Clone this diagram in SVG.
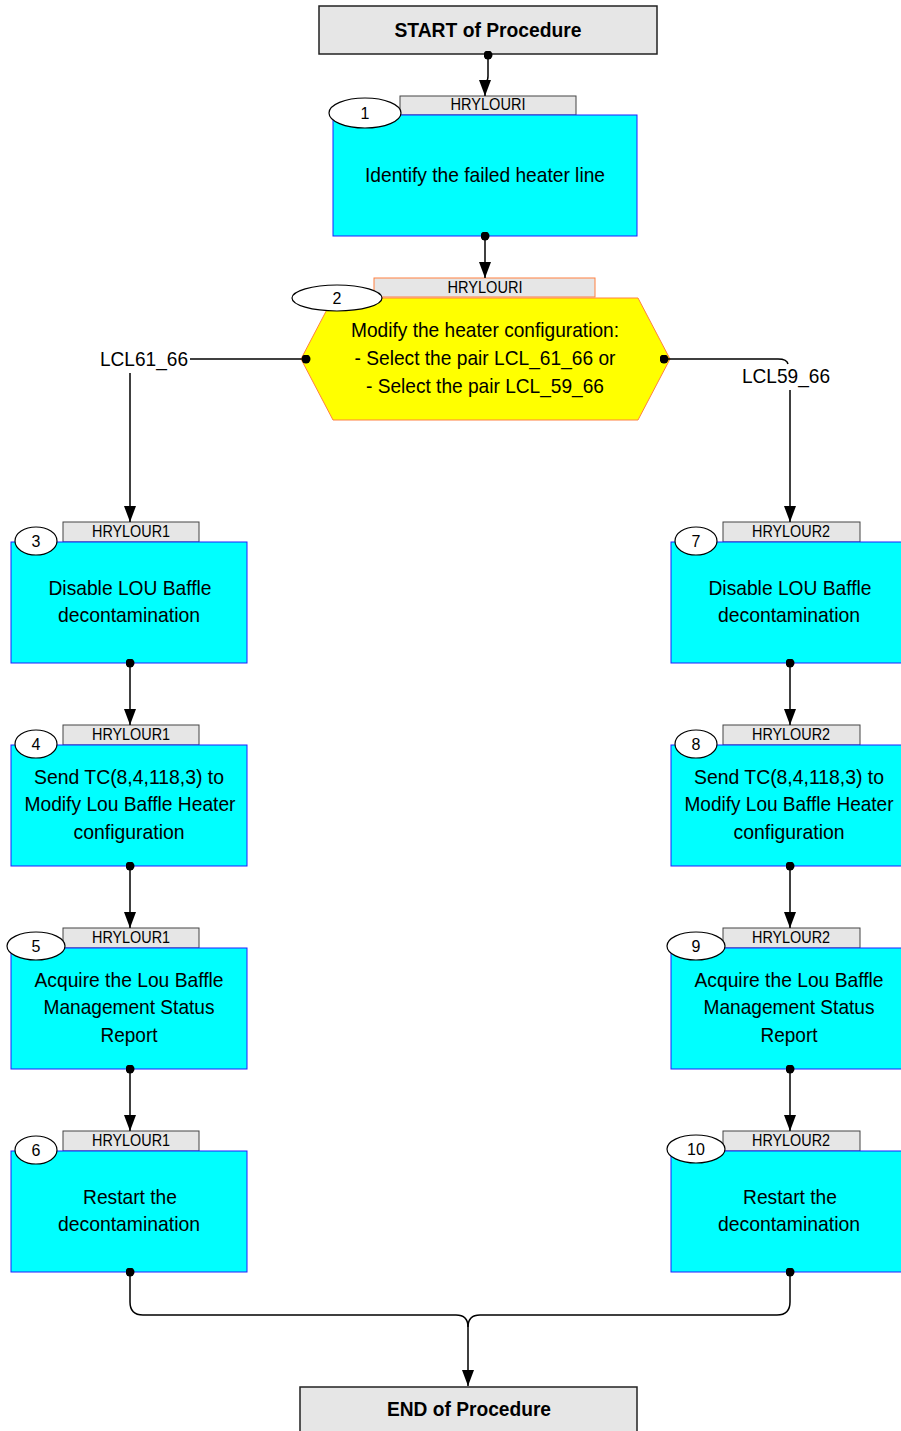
<svg xmlns="http://www.w3.org/2000/svg" width="901" height="1431" viewBox="0 0 901 1431">
<style>
text{font-family:"Liberation Sans",Arial,sans-serif;fill:#000;text-anchor:middle}
.t{font-size:21px}
.b{font-size:21px;font-weight:bold}
.tg{font-size:16px}
.n{font-size:16px}
.term{fill:#e6e6e6;stroke:#222;stroke-width:1.5}
.box{fill:#00ffff;stroke:#2020ff;stroke-width:1}
.tag{fill:#e6e6e6;stroke:#444;stroke-width:1}
.tago{fill:#e6e6e6;stroke:#ff8040;stroke-width:1}
.el{fill:#fff;stroke:#000;stroke-width:1.2}
.c{fill:none;stroke:#000;stroke-width:1.5}
</style>
<defs>
<marker id="arr" viewBox="0 0 16 12" refX="16" refY="6" markerWidth="16" markerHeight="12" markerUnits="userSpaceOnUse" orient="auto">
<path d="M0,0 L16,6 L0,12 Z"/>
</marker>
<marker id="dt" viewBox="0 0 10 10" refX="5" refY="5" markerWidth="9" markerHeight="9" markerUnits="userSpaceOnUse">
<circle cx="5" cy="5" r="5"/>
</marker>
</defs>

<g id="start">
<rect class="term" x="319" y="6" width="338" height="48"/>
<text class="b" x="488" y="37" textLength="187" lengthAdjust="spacingAndGlyphs">START of Procedure</text>
</g>

<g id="n1">
<rect class="tag" x="400" y="96" width="176" height="19"/>
<text class="tg" x="488" y="110" textLength="75" lengthAdjust="spacingAndGlyphs">HRYLOURI</text>
<rect class="box" x="333" y="115" width="304" height="121"/>
<ellipse class="el" cx="365" cy="113" rx="36" ry="15"/>
<text class="n" x="365" y="119">1</text>
<text class="t" x="485" y="182" textLength="240" lengthAdjust="spacingAndGlyphs">Identify the failed heater line</text>
</g>

<g id="n2">
<rect class="tago" x="374" y="278" width="221" height="19"/>
<text class="tg" x="485" y="293" textLength="75" lengthAdjust="spacingAndGlyphs">HRYLOURI</text>
<polygon points="301,359 333,298 638,298 670,359 638,420 333,420" fill="#ffff00" stroke="#ff8040" stroke-width="1"/>
<ellipse class="el" cx="337" cy="298" rx="45" ry="13"/>
<text class="n" x="337" y="304">2</text>
<text class="t" x="485" y="337" textLength="268" lengthAdjust="spacingAndGlyphs">Modify the heater configuration:</text>
<text class="t" x="485" y="365" textLength="261" lengthAdjust="spacingAndGlyphs">- Select the pair LCL_61_66 or</text>
<text class="t" x="485" y="393" textLength="238" lengthAdjust="spacingAndGlyphs">- Select the pair LCL_59_66</text>
</g>

<g id="n3">
<rect class="tag" x="63" y="522" width="136" height="20"/>
<text class="tg" x="131" y="537" textLength="78" lengthAdjust="spacingAndGlyphs">HRYLOUR1</text>
<rect class="box" x="11" y="542" width="236" height="121"/>
<ellipse class="el" cx="36" cy="541" rx="21" ry="14"/>
<text class="n" x="36" y="547">3</text>
<text class="t" x="130" y="595" textLength="163" lengthAdjust="spacingAndGlyphs">Disable LOU Baffle</text>
<text class="t" x="129" y="622" textLength="142" lengthAdjust="spacingAndGlyphs">decontamination</text>
</g>

<g id="n4">
<rect class="tag" x="63" y="725" width="136" height="20"/>
<text class="tg" x="131" y="740" textLength="78" lengthAdjust="spacingAndGlyphs">HRYLOUR1</text>
<rect class="box" x="11" y="745" width="236" height="121"/>
<ellipse class="el" cx="36" cy="744" rx="21" ry="14"/>
<text class="n" x="36" y="750">4</text>
<text class="t" x="129" y="784" textLength="190" lengthAdjust="spacingAndGlyphs">Send TC(8,4,118,3) to</text>
<text class="t" x="130" y="811" textLength="211" lengthAdjust="spacingAndGlyphs">Modify Lou Baffle Heater</text>
<text class="t" x="129" y="839" textLength="111" lengthAdjust="spacingAndGlyphs">configuration</text>
</g>

<g id="n5">
<rect class="tag" x="63" y="928" width="136" height="20"/>
<text class="tg" x="131" y="943" textLength="78" lengthAdjust="spacingAndGlyphs">HRYLOUR1</text>
<rect class="box" x="11" y="948" width="236" height="121"/>
<ellipse class="el" cx="36" cy="946" rx="29" ry="14"/>
<text class="n" x="36" y="952">5</text>
<text class="t" x="129" y="987" textLength="189" lengthAdjust="spacingAndGlyphs">Acquire the Lou Baffle</text>
<text class="t" x="129" y="1014" textLength="171" lengthAdjust="spacingAndGlyphs">Management Status</text>
<text class="t" x="129" y="1042" textLength="57" lengthAdjust="spacingAndGlyphs">Report</text>
</g>

<g id="n6">
<rect class="tag" x="63" y="1131" width="136" height="20"/>
<text class="tg" x="131" y="1146" textLength="78" lengthAdjust="spacingAndGlyphs">HRYLOUR1</text>
<rect class="box" x="11" y="1151" width="236" height="121"/>
<ellipse class="el" cx="36" cy="1150" rx="21" ry="14"/>
<text class="n" x="36" y="1156">6</text>
<text class="t" x="130" y="1204" textLength="94" lengthAdjust="spacingAndGlyphs">Restart the</text>
<text class="t" x="129" y="1231" textLength="142" lengthAdjust="spacingAndGlyphs">decontamination</text>
</g>

<g id="n7">
<rect class="tag" x="723" y="522" width="137" height="20"/>
<text class="tg" x="791" y="537" textLength="78" lengthAdjust="spacingAndGlyphs">HRYLOUR2</text>
<rect class="box" x="671" y="542" width="240" height="121"/>
<ellipse class="el" cx="696" cy="541" rx="21" ry="14"/>
<text class="n" x="696" y="547">7</text>
<text class="t" x="790" y="595" textLength="163" lengthAdjust="spacingAndGlyphs">Disable LOU Baffle</text>
<text class="t" x="789" y="622" textLength="142" lengthAdjust="spacingAndGlyphs">decontamination</text>
</g>

<g id="n8">
<rect class="tag" x="723" y="725" width="137" height="20"/>
<text class="tg" x="791" y="740" textLength="78" lengthAdjust="spacingAndGlyphs">HRYLOUR2</text>
<rect class="box" x="671" y="745" width="240" height="121"/>
<ellipse class="el" cx="696" cy="744" rx="21" ry="14"/>
<text class="n" x="696" y="750">8</text>
<text class="t" x="789" y="784" textLength="190" lengthAdjust="spacingAndGlyphs">Send TC(8,4,118,3) to</text>
<text class="t" x="789" y="811" textLength="209" lengthAdjust="spacingAndGlyphs">Modify Lou Baffle Heater</text>
<text class="t" x="789" y="839" textLength="111" lengthAdjust="spacingAndGlyphs">configuration</text>
</g>

<g id="n9">
<rect class="tag" x="723" y="928" width="137" height="20"/>
<text class="tg" x="791" y="943" textLength="78" lengthAdjust="spacingAndGlyphs">HRYLOUR2</text>
<rect class="box" x="671" y="948" width="240" height="121"/>
<ellipse class="el" cx="696" cy="946" rx="29" ry="14"/>
<text class="n" x="696" y="952">9</text>
<text class="t" x="789" y="987" textLength="189" lengthAdjust="spacingAndGlyphs">Acquire the Lou Baffle</text>
<text class="t" x="789" y="1014" textLength="171" lengthAdjust="spacingAndGlyphs">Management Status</text>
<text class="t" x="789" y="1042" textLength="57" lengthAdjust="spacingAndGlyphs">Report</text>
</g>

<g id="n10">
<rect class="tag" x="723" y="1131" width="137" height="20"/>
<text class="tg" x="791" y="1146" textLength="78" lengthAdjust="spacingAndGlyphs">HRYLOUR2</text>
<rect class="box" x="671" y="1151" width="240" height="121"/>
<ellipse class="el" cx="696" cy="1149" rx="29" ry="14"/>
<text class="n" x="696" y="1155">10</text>
<text class="t" x="790" y="1204" textLength="94" lengthAdjust="spacingAndGlyphs">Restart the</text>
<text class="t" x="789" y="1231" textLength="142" lengthAdjust="spacingAndGlyphs">decontamination</text>
</g>

<g id="end">
<rect class="term" x="300" y="1387" width="337" height="50"/>
<text class="b" x="469" y="1416" textLength="164" lengthAdjust="spacingAndGlyphs">END of Procedure</text>
</g>

<g id="connectors">
<path class="c" d="M488,55 V76 Q488,80 486.5,81 Q485,82 485,86 V96" marker-start="url(#dt)" marker-end="url(#arr)"/>
<path class="c" d="M485,236 V278" marker-start="url(#dt)" marker-end="url(#arr)"/>
<path class="c" d="M306,359 H190" marker-start="url(#dt)"/>
<text class="t" x="144" y="366" textLength="88" lengthAdjust="spacingAndGlyphs">LCL61_66</text>
<path class="c" d="M130,373 V522" marker-end="url(#arr)"/>
<path class="c" d="M664,359 H778 Q787,359 788,364" marker-start="url(#dt)"/>
<text class="t" x="786" y="383" textLength="88" lengthAdjust="spacingAndGlyphs">LCL59_66</text>
<path class="c" d="M790,390 V522" marker-end="url(#arr)"/>
<path class="c" d="M130,663 V725" marker-start="url(#dt)" marker-end="url(#arr)"/>
<path class="c" d="M130,866 V928" marker-start="url(#dt)" marker-end="url(#arr)"/>
<path class="c" d="M130,1069 V1131" marker-start="url(#dt)" marker-end="url(#arr)"/>
<path class="c" d="M790,663 V725" marker-start="url(#dt)" marker-end="url(#arr)"/>
<path class="c" d="M790,866 V928" marker-start="url(#dt)" marker-end="url(#arr)"/>
<path class="c" d="M790,1069 V1131" marker-start="url(#dt)" marker-end="url(#arr)"/>
<path class="c" d="M130,1272 V1302 Q130,1315 143,1315 H456 Q468,1315 468,1327" marker-start="url(#dt)"/>
<path class="c" d="M790,1272 V1302 Q790,1315 777,1315 H480 Q468,1315 468,1327 V1386" marker-start="url(#dt)" marker-end="url(#arr)"/>
</g>
</svg>
